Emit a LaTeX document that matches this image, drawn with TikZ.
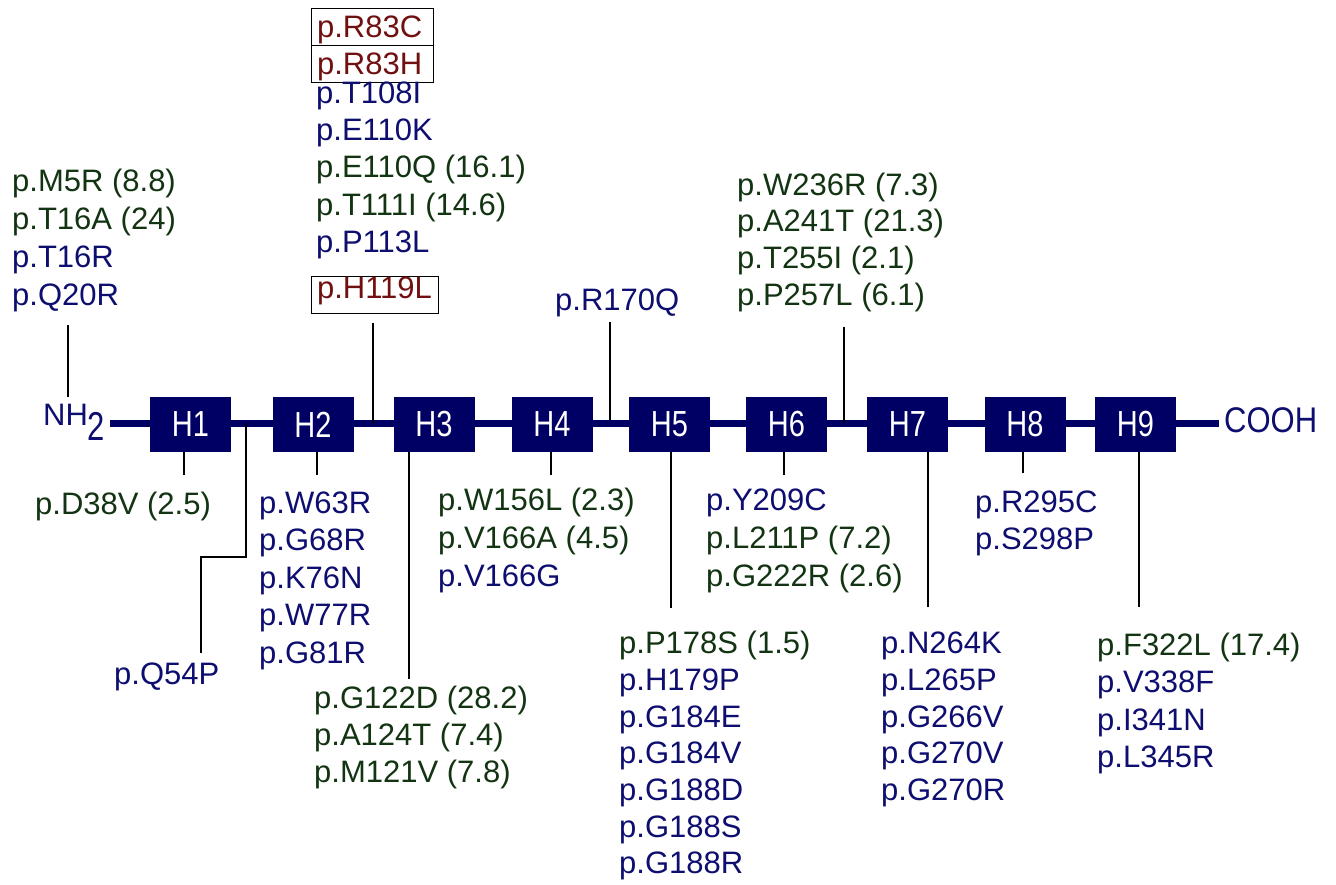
\documentclass[tikz,border=0pt]{standalone}
\usepackage{graphicx}
\usepackage{fontspec}
\setmainfont{Liberation Sans}
\definecolor{navytxt}{RGB}{14,14,112}
\definecolor{boxnavy}{RGB}{0,0,100}
\definecolor{dgreen}{RGB}{18,52,18}
\definecolor{dred}{RGB}{112,16,16}
\begin{document}
\begin{tikzpicture}[x=1pt,y=-1pt,
  lbl/.style={anchor=base west, inner sep=0pt, font=\fontsize{31}{36}\selectfont},
  nv/.style={lbl, text=navytxt},
  gr/.style={lbl, text=dgreen},
  rd/.style={draw=black, line width=1.1pt, anchor=north west, inner xsep=5.5pt, inner ysep=0pt,
    text height=29pt, text depth=8pt, align=left, text=dred, text width=111pt,
    font=\fontsize{31}{36}\selectfont},
  helix/.style={fill=boxnavy, minimum width=81pt, minimum height=55pt, inner sep=0pt, text=white,
    font=\fontsize{29}{29}\selectfont},
  tick/.style={line width=2.4pt, black},
  backbone/.style={line width=7pt, boxnavy}]
\useasboundingbox (0,0) rectangle (1336,884);
\fill[white] (0,0) rectangle (1336,884);

% ends
\node[nv] (nh) at (43,425) {NH\raisebox{-15pt}{\scalebox{1}[1.3]{2}}};
\node[nv] (cooh) at (1224,432) {\scalebox{1}[1.15]{COOH}};
\coordinate (bl) at (110,423);
\coordinate (br) at (1219,423);
\draw[backbone] (bl) -- (br);

% helices
\node[helix] (h1) at (190.5,424.5) {\scalebox{1}[1.25]{H1}};
\node[helix] (h2) at (313,424.5) {\scalebox{1}[1.25]{H2}};
\node[helix] (h3) at (434,424.5) {\scalebox{1}[1.25]{H3}};
\node[helix] (h4) at (552,424.5) {\scalebox{1}[1.25]{H4}};
\node[helix] (h5) at (669.5,424.5) {\scalebox{1}[1.25]{H5}};
\node[helix] (h6) at (786.5,424.5) {\scalebox{1}[1.25]{H6}};
\node[helix] (h7) at (907.5,424.5) {\scalebox{1}[1.25]{H7}};
\node[helix] (h8) at (1025,424.5) {\scalebox{1}[1.25]{H8}};
\node[helix] (h9) at (1135.5,424.5) {\scalebox{1}[1.25]{H9}};

% top-left group
\node[gr] (m5r) at (12,191) {p.M5R (8.8)};
\node[gr] (t16a) at (12,229) {p.T16A (24)};
\node[nv] (t16r) at (12,267) {p.T16R};
\node[nv] (q20r) at (12,305) {p.Q20R};

% group above H2/H3
\node[rd] (r83c) at (311,8) {p.R83C};
\node[rd] (r83h) at (311,45) {p.R83H};
\node[nv] (t108i) at (316,103) {p.T108I};
\node[nv] (e110k) at (316,140) {p.E110K};
\node[gr] (e110q) at (316,177) {p.E110Q (16.1)};
\node[gr] (t111i) at (316,215) {p.T111I (14.6)};
\node[nv] (p113l) at (316,252) {p.P113L};
\node[rd, text width=116pt, text height=22pt, text depth=15pt] (h119l) at (311,276) {p.H119L};

% R170Q
\node[nv] (r170q) at (555,310) {p.R170Q};

% group above H6/H7
\node[gr] (w236r) at (737,195) {p.W236R (7.3)};
\node[gr] (a241t) at (737,231) {p.A241T (21.3)};
\node[gr] (t255i) at (737,268) {p.T255I (2.1)};
\node[gr] (p257l) at (737,305) {p.P257L (6.1)};

% below
\node[gr] (d38v) at (35,514) {p.D38V (2.5)};
\node[nv] (q54p) at (114,684) {p.Q54P};

\node[nv] (w63r) at (259,513) {p.W63R};
\node[nv] (g68r) at (259,550) {p.G68R};
\node[nv] (k76n) at (259,588) {p.K76N};
\node[nv] (w77r) at (259,625) {p.W77R};
\node[nv] (g81r) at (259,663) {p.G81R};

\node[gr] (g122d) at (314,708) {p.G122D (28.2)};
\node[gr] (a124t) at (314,745) {p.A124T (7.4)};
\node[gr] (m121v) at (314,782) {p.M121V (7.8)};

\node[gr] (w156l) at (438,510) {p.W156L (2.3)};
\node[gr] (v166a) at (438,548) {p.V166A (4.5)};
\node[nv] (v166g) at (438,586) {p.V166G};

\node[gr] (p178s) at (619,653) {p.P178S (1.5)};
\node[nv] (h179p) at (619,690) {p.H179P};
\node[nv] (g184e) at (619,727) {p.G184E};
\node[nv] (g184v) at (619,763) {p.G184V};
\node[nv] (g188d) at (619,800) {p.G188D};
\node[nv] (g188s) at (619,837) {p.G188S};
\node[nv] (g188r) at (619,873) {p.G188R};

\node[nv] (y209c) at (706,510) {p.Y209C};
\node[gr] (l211p) at (706,548) {p.L211P (7.2)};
\node[gr] (g222r) at (706,586) {p.G222R (2.6)};

\node[nv] (n264k) at (881,653) {p.N264K};
\node[nv] (l265p) at (881,690) {p.L265P};
\node[nv] (g266v) at (881,727) {p.G266V};
\node[nv] (g270v) at (881,763) {p.G270V};
\node[nv] (g270r) at (881,800) {p.G270R};

\node[nv] (r295c) at (975,512) {p.R295C};
\node[nv] (s298p) at (975,549) {p.S298P};

\node[gr] (f322l) at (1097,655) {p.F322L (17.4)};
\node[nv] (v338f) at (1097,692) {p.V338F};
\node[nv] (i341n) at (1097,730) {p.I341N};
\node[nv] (l345r) at (1097,767) {p.L345R};

% connectors
\coordinate (nhtop) at (68,325);
\draw[tick] (nhtop) -- (68,397);
\draw[tick] (h1.south -| 184,0) -- ++(0,23);
\coordinate (q54a) at (246,423);
\coordinate (q54b) at (201,653);
\draw[tick] (q54a) |- (201,557) -- (q54b);
\draw[tick] (h2.south -| 317,0) -- ++(0,23);
\coordinate (up1) at (373,323);
\draw[tick] (up1) -- (373,423);
\draw[tick] (h3.south -| 409,0) -- (409,679);
\draw[tick] (h4.south -| 551,0) -- ++(0,23);
\coordinate (up2) at (610,322);
\draw[tick] (up2) -- (610,420);
\draw[tick] (h5.south -| 671,0) -- (671,608);
\draw[tick] (h6.south -| 784,0) -- ++(0,23);
\coordinate (up3) at (844,327);
\draw[tick] (up3) -- (844,423);
\draw[tick] (h7.south -| 928,0) -- (928,607);
\draw[tick] (h8.south -| 1023,0) -- ++(0,21);
\draw[tick] (h9.south -| 1139,0) -- (1139,607);
\end{tikzpicture}
\end{document}
